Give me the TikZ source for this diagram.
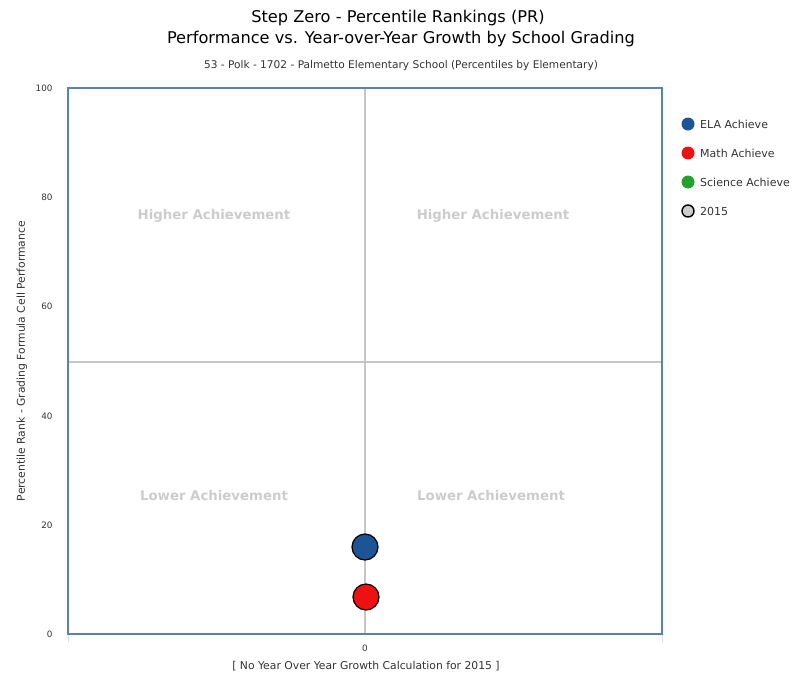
\documentclass[tikz,border=0pt]{standalone}
\usepackage{fontspec}
\setmainfont{DejaVu Sans}
\definecolor{frameblue}{HTML}{5A82AE}
\definecolor{elablue}{HTML}{1C5496}
\definecolor{mathred}{HTML}{EE1111}
\definecolor{sciencegreen}{HTML}{22A22A}
\definecolor{gridgrey}{HTML}{C6C6C6}
\definecolor{quadgrey}{HTML}{CCCCCC}
\definecolor{txtgrey}{HTML}{333333}
\begin{document}
\begin{tikzpicture}[x=1pt,y=-1pt,
  quadlabel/.style={text=quadgrey,font=\bfseries\fontsize{13.3}{15}\selectfont},
  ticklabel/.style={text=txtgrey,font=\fontsize{8.8}{10}\selectfont},
  legtext/.style={anchor=west,text=txtgrey,font=\fontsize{11}{13}\selectfont,inner sep=0pt},
  legdot/.style={circle,draw=black!80,line width=0.6pt,minimum size=13pt,inner sep=0pt},
  datadot/.style={circle,draw=black,line width=1.2pt,minimum size=26pt,inner sep=0pt}]
\useasboundingbox (0,0) rectangle (797,678);
% titles
\node[font=\fontsize{16.2}{18}\selectfont,text=black] (t1) at (398,18) {Step Zero - Percentile Rankings (PR)};
\node[font=\fontsize{16.2}{18}\selectfont,text=black] (t2) at (401,39) {Performance vs. Year-over-Year Growth by School Grading};
\node[font=\fontsize{10.6}{12}\selectfont,text=txtgrey] (t3) at (401,66) {53 - Polk - 1702 - Palmetto Elementary School (Percentiles by Elementary)};
% grid lines
\draw[gridgrey,line width=1.6pt] (365,88) -- (365,634);
\draw[gridgrey,line width=1.6pt] (68,362) -- (662,362);
% bottom ticks
\draw[frameblue!25,line width=1pt] (68,634) -- (68,642);
\draw[frameblue!25,line width=1pt] (662,634) -- (662,642);
% frame
\draw[frameblue,line width=1.6pt] (68,88) rectangle (662,634);
% quadrant labels
\node[quadlabel] (q1) at (214,216) {Higher Achievement};
\node[quadlabel] (q2) at (493,216) {Higher Achievement};
\node[quadlabel] (q3) at (214,496) {Lower Achievement};
\node[quadlabel] (q4) at (491,496) {Lower Achievement};
% y tick labels
\foreach \v/\yy in {100/88,80/197,60/306,40/416,20/525,0/634}
  \node[ticklabel,anchor=east] (y\v) at (56,\yy) {\v};
\node[ticklabel] (x0) at (365,648) {0};
% axis titles
\node[rotate=90,text=txtgrey,font=\fontsize{10.8}{12}\selectfont] (ytitle) at (22,361) {Percentile Rank - Grading Formula Cell Performance};
\node[text=txtgrey,font=\fontsize{10.8}{12}\selectfont] (xtitle) at (366,666) {[ No Year Over Year Growth Calculation for 2015 ]};
% data
\node[datadot,fill=elablue] (ela) at (365,547) {};
\node[datadot,fill=mathred] (math) at (366,597) {};
% legend
\node[legdot,fill=elablue,draw=none] (l1) at (688,124) {};
\node[legdot,fill=mathred,draw=none] (l2) at (688,153) {};
\node[legdot,fill=sciencegreen,draw=none] (l3) at (688,182) {};
\node[legdot,fill=black!20,line width=1.4pt,draw=black,minimum size=12pt] (l4) at (688,211) {};
\node[legtext] (lt1) at (700,124) {ELA Achieve};
\node[legtext] (lt2) at (700,153) {Math Achieve};
\node[legtext] (lt3) at (700,182) {Science Achieve};
\node[legtext] (lt4) at (700,211) {2015};
\end{tikzpicture}
\end{document}
